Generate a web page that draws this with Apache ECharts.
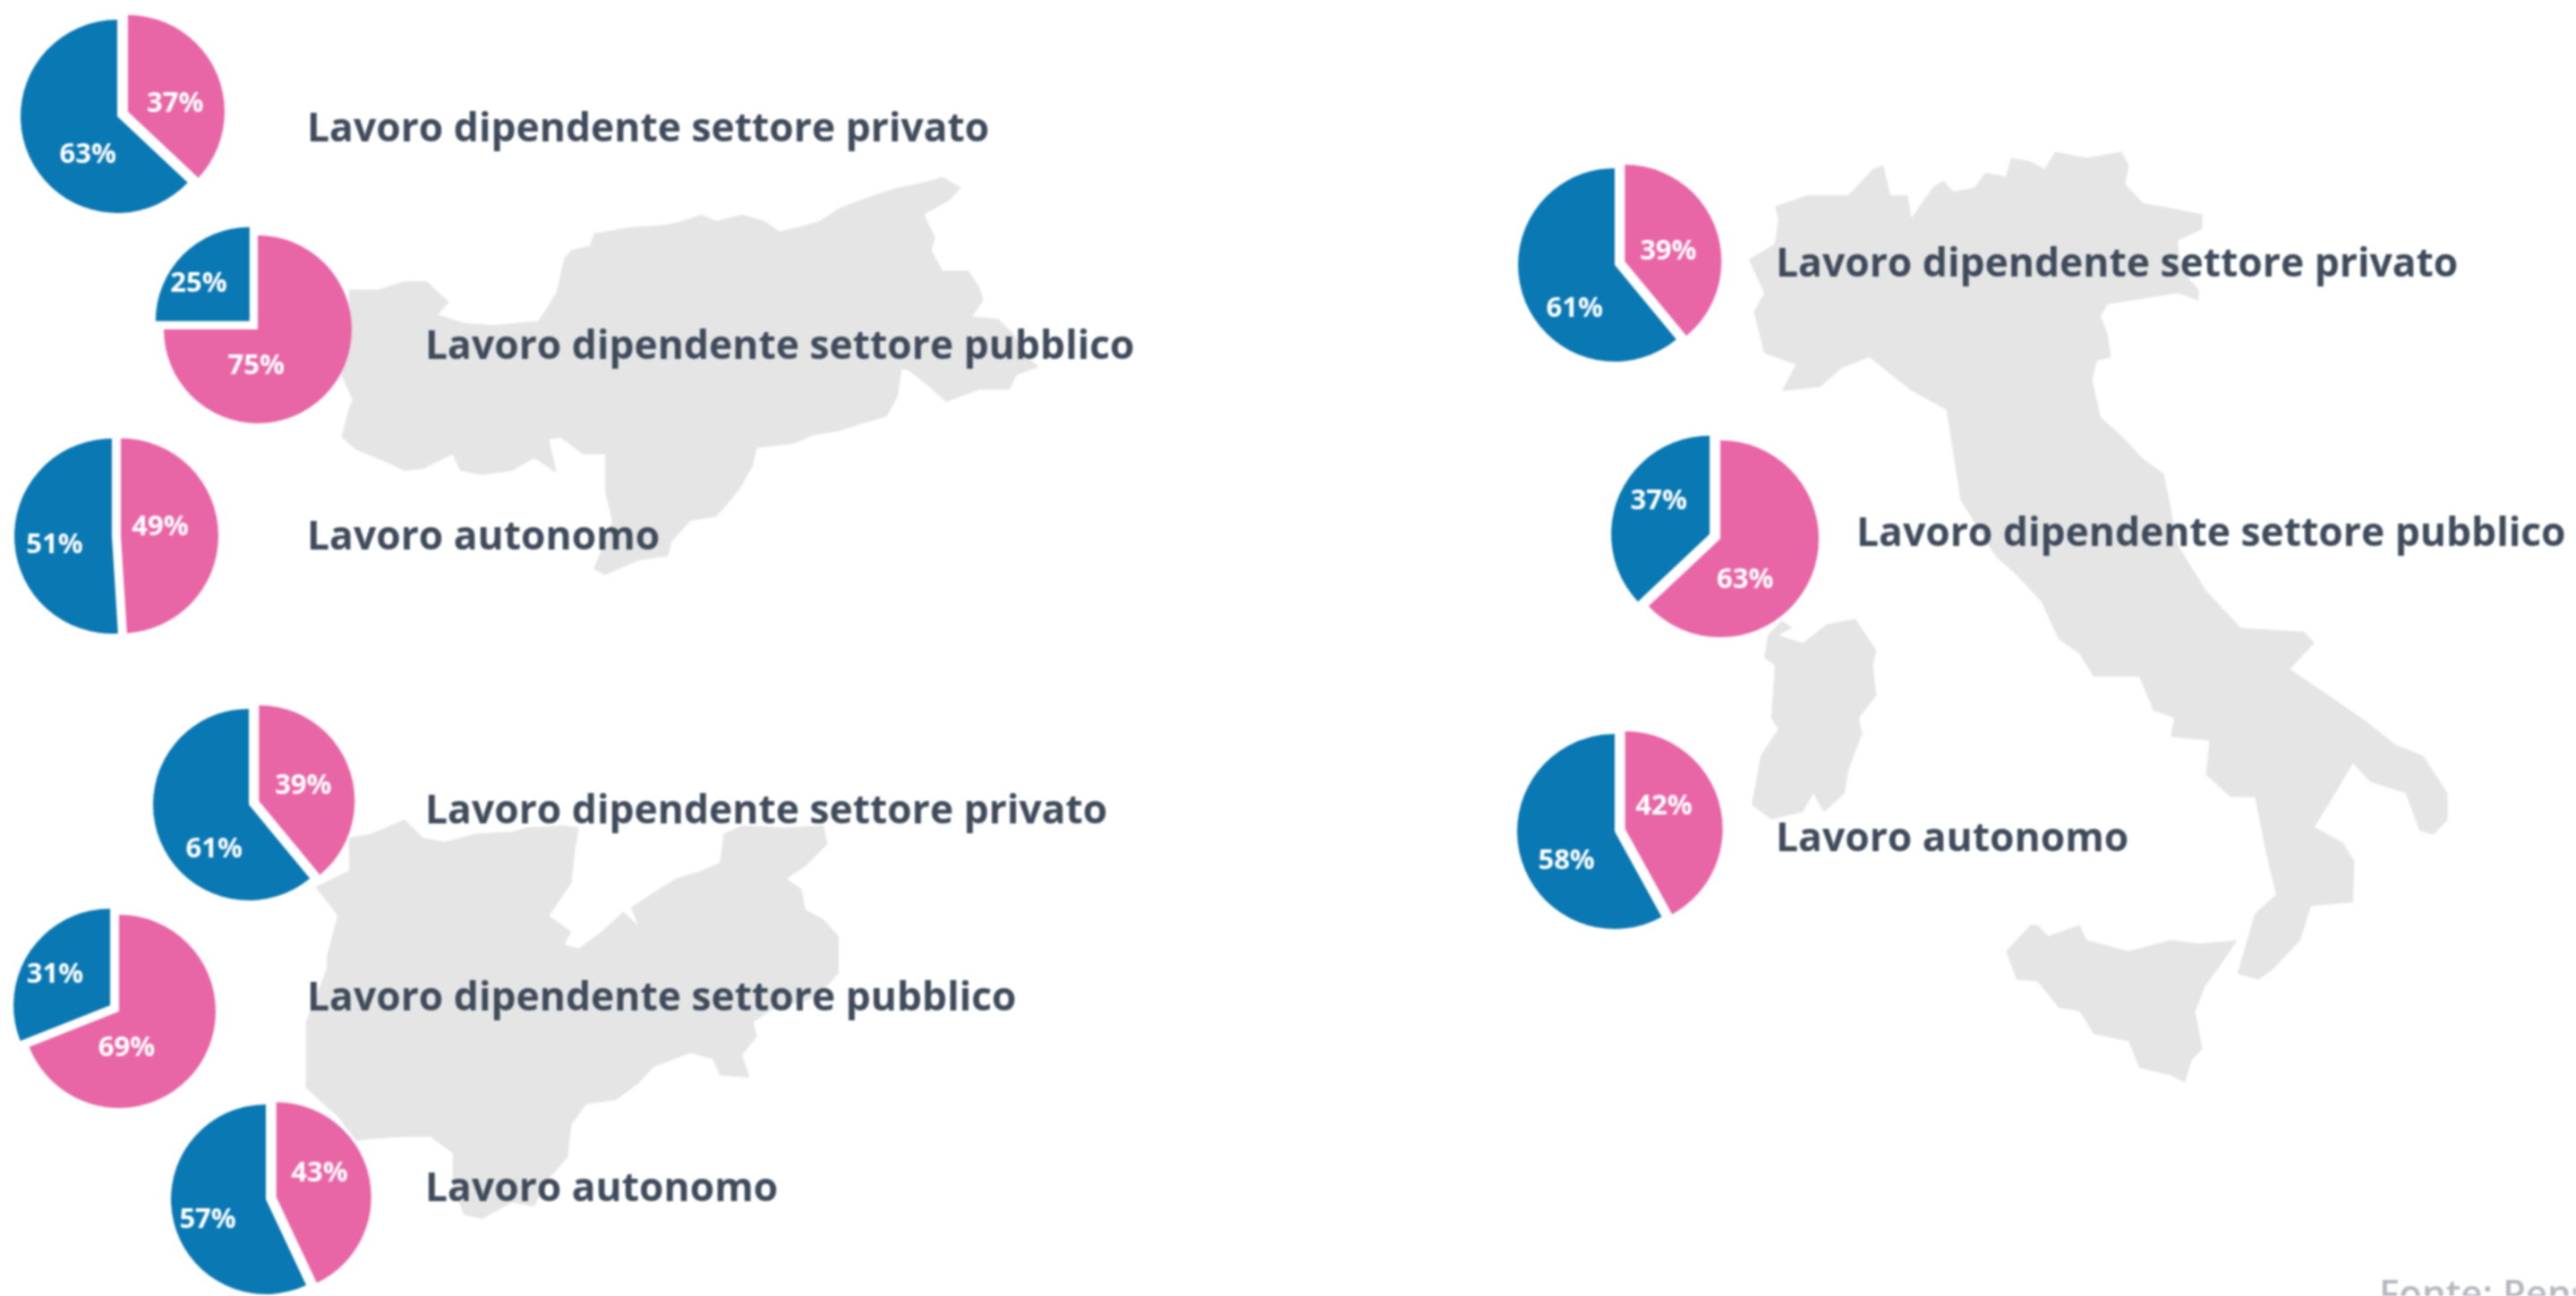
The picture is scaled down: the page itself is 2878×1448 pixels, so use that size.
<!DOCTYPE html>
<html>
<head>
<meta charset="utf-8">
<style>
html,body{margin:0;padding:0;background:#fff;overflow:hidden}
#chart{width:2878px;height:1448px;filter:blur(0.8px)}
</style>
<script src="https://cdn.jsdelivr.net/npm/echarts@6/dist/echarts.min.js"></script>
</head>
<body>
<div id="chart"></div>
<script>
// ---------- data ----------
const categories = ['Lavoro dipendente settore privato', 'Lavoro dipendente settore pubblico', 'Lavoro autonomo'];
const altoAdigePink = [37, 75, 49];
const altoAdigeBlue = [63, 25, 51];
const trentinoPink = [39, 69, 43];
const trentinoBlue = [61, 31, 57];
const italiaPink = [39, 63, 42];
const italiaBlue = [61, 37, 58];
const sourceNote = 'Fonte: Pensplan';

// ---------- layout ----------
const pieLayout = [
  {pink: altoAdigePink, blue: altoAdigeBlue, i: 0, c: [131, 130], r: 108, off: 13, lp: [193, 117], lb: [101, 172], text: [343, 145]},
  {pink: altoAdigePink, blue: altoAdigeBlue, i: 1, c: [288, 368], r: 105, off: 13, lp: [284, 407], lb: [224, 319], text: [475, 388]},
  {pink: altoAdigePink, blue: altoAdigeBlue, i: 2, c: [125, 599], r: 109, off: 10, lp: [176, 589], lb: [64, 609], text: [343, 601]},
  {pink: trentinoPink, blue: trentinoBlue, i: 0, c: [278, 899], r: 107, off: 12, lp: [336, 879], lb: [242, 948], text: [475, 907]},
  {pink: trentinoPink, blue: trentinoBlue, i: 1, c: [133, 1130], r: 108, off: 12, lp: [139, 1169], lb: [64, 1091], text: [343, 1116]},
  {pink: trentinoPink, blue: trentinoBlue, i: 2, c: [297, 1340], r: 106, off: 12, lp: [354, 1312], lb: [235, 1363], text: [475, 1329]},
  {pink: italiaPink, blue: italiaBlue, i: 0, c: [1804, 296], r: 108, off: 12, lp: [1861, 282], lb: [1762, 344], text: [1984, 296]},
  {pink: italiaPink, blue: italiaBlue, i: 1, c: [1922, 602], r: 110, off: 13, lp: [1947, 647], lb: [1856, 561], text: [2074, 597]},
  {pink: italiaPink, blue: italiaBlue, i: 2, c: [1804, 929], r: 109, off: 12, lp: [1856, 902], lb: [1753, 961], text: [1984, 938]}
];

// Silhouettes: traced outlines, each with the scale/shift of the crop they were traced on.
const altoAdigeOutline = [[470,695],[510,695],[545,675],[575,675],[590,700],[605,725],[590,755],[625,775],[665,780],[725,770],[735,745],[750,700],[760,620],[770,600],[795,590],[800,560],[850,545],[895,540],[920,530],[945,515],[965,530],[1000,515],[1030,530],[1050,555],[1075,545],[1105,530],[1130,500],[1175,470],[1210,450],[1240,440],[1270,425],[1295,450],[1280,480],[1245,515],[1260,570],[1255,600],[1270,650],[1305,650],[1320,690],[1325,720],[1310,760],[1345,765],[1365,800],[1385,860],[1400,880],[1370,900],[1360,935],[1320,935],[1275,965],[1250,925],[1225,890],[1215,885],[1210,950],[1195,1000],[1165,1015],[1130,1035],[1095,1045],[1070,1065],[1020,1075],[1015,1115],[1000,1165],[985,1200],[965,1240],[930,1250],[905,1300],[900,1335],[860,1345],[815,1380],[800,1365],[815,1300],[825,1250],[815,1180],[815,1090],[785,1090],[755,1050],[740,1055],[750,1135],[720,1100],[690,1130],[650,1140],[620,1130],[610,1090],[570,1125],[545,1130],[515,1105],[480,1080],[460,1050],[470,980],[475,960],[460,900],[470,780]];
const trentinoOutline = [[470,450],[500,440],[545,405],[570,450],[600,460],[640,440],[690,435],[710,425],[760,420],[780,425],[775,480],[770,560],[740,640],[770,680],[760,710],[780,720],[810,680],[840,630],[860,665],[850,620],[875,590],[910,550],[945,530],[970,510],[975,440],[1000,420],[1060,425],[1110,420],[1115,465],[1085,520],[1060,550],[1080,575],[1085,625],[1110,650],[1130,690],[1130,780],[1100,840],[1040,870],[1015,900],[1020,935],[1000,980],[1010,1035],[970,1030],[960,990],[930,975],[880,1010],[860,1050],[830,1090],[790,1100],[770,1150],[765,1230],[735,1290],[720,1350],[690,1340],[650,1380],[625,1370],[610,1300],[610,1220],[580,1180],[545,1180],[500,1185],[480,1190],[455,1130],[430,1090],[412,1060],[412,900],[440,770],[440,740],[455,640],[425,570],[470,530]];
const italiaOutline = [[425,120],[470,105],[530,105],[565,70],[580,65],[590,105],[615,105],[620,135],[650,95],[665,85],[680,100],[710,95],[725,75],[755,80],[762,55],[790,60],[810,70],[825,47],[870,55],[920,47],[930,65],[925,90],[950,115],[1035,130],[1035,150],[1000,165],[1005,205],[1030,230],[1030,245],[1000,235],[965,240],[900,250],[890,265],[900,290],[905,320],[885,325],[878,350],[890,400],[920,425],[950,455],[980,475],[990,520],[1000,570],[1040,630],[1090,680],[1180,685],[1195,700],[1160,735],[1200,760],[1270,805],[1310,835],[1350,850],[1385,900],[1385,935],[1365,955],[1345,950],[1325,900],[1275,885],[1250,860],[1215,915],[1195,945],[1235,965],[1252,990],[1250,1045],[1190,1050],[1175,1095],[1135,1135],[1115,1148],[1085,1140],[1110,1060],[1140,1035],[1125,975],[1110,905],[1075,905],[1040,875],[1045,830],[990,825],[995,800],[965,790],[945,745],[880,745],[860,715],[830,695],[805,645],[770,610],[740,585],[690,510],[680,450],[670,390],[620,365],[560,320],[520,335],[490,360],[435,365],[455,330],[410,315],[395,260],[410,235],[388,190],[425,170],[430,135]];
const sardegnaOutline = [[415,690],[435,670],[450,680],[430,690],[465,700],[500,675],[540,668],[570,710],[565,730],[570,770],[545,800],[550,820],[530,870],[525,900],[495,925],[480,900],[465,925],[420,935],[392,915],[405,850],[430,815],[420,800],[425,730],[410,720]];
const siciliaOutline = [[755,1110],[790,1075],[800,1075],[815,1090],[860,1075],[870,1095],[930,1110],[990,1095],[1030,1100],[1085,1095],[1060,1130],[1040,1155],[1025,1190],[1035,1240],[1020,1255],[1010,1285],[990,1275],[945,1265],[930,1230],[880,1220],[860,1190],[830,1185],[800,1150],[770,1148]];

const crops = {
  topLeft: {sx: 1.206, sy: 2.148, ox: 0, oy: 0},
  bottomLeft: {sx: 1.206, sy: 2.184, ox: 0, oy: 730},
  right: {sx: 1.277, sy: 1.19, ox: 1650, oy: 130}
};
function feature(name, outline, crop) {
  const ring = outline.map(p => [p[0] / crop.sx + crop.ox, -(p[1] / crop.sy + crop.oy)]);
  ring.push(ring[0]);
  return {type: 'Feature', properties: {name}, geometry: {type: 'Polygon', coordinates: [ring]}};
}
const silhouettes = {
  type: 'FeatureCollection',
  features: [
    feature('Alto Adige', altoAdigeOutline, crops.topLeft),
    feature('Trentino', trentinoOutline, crops.bottomLeft),
    feature('Italia', italiaOutline, crops.right),
    feature('Sardegna', sardegnaOutline, crops.right),
    feature('Sicilia', siciliaOutline, crops.right)
  ]
};
echarts.registerMap('silhouettes', silhouettes);

const PINK = '#e966a6', BLUE = '#0a78b3', GREY = '#e5e5e5', INK = '#3f4b5b';
const FONT = '"Open Sans", "Noto Sans", sans-serif';

function slice(value, total, start, color, isExploded, p, target) {
  const mid = (start + value / 2) / total * 2 * Math.PI;
  const reach = p.r / 2 + (isExploded ? p.off : 0);
  const dx = target[0] - (p.c[0] + Math.sin(mid) * reach);
  const dy = target[1] - (p.c[1] - Math.cos(mid) * reach);
  return {
    value, selected: isExploded,
    itemStyle: {color},
    select: {itemStyle: {color}, label: {color: '#fff', offset: [dx, dy]}},
    label: {offset: [dx, dy]}
  };
}

const series = pieLayout.map(p => {
  const pv = p.pink[p.i], bv = p.blue[p.i], total = pv + bv;
  return {
    type: 'pie', center: p.c, radius: [0, p.r], startAngle: 90, clockwise: true,
    selectedMode: 'multiple', selectedOffset: p.off, silent: true,
    avoidLabelOverlap: false, animation: false, z: 5,
    labelLine: {show: false},
    label: {show: true, position: 'inside', formatter: '{c}%', color: '#fff',
            fontFamily: FONT, fontWeight: 700, fontSize: 31},
    data: [
      slice(pv, total, 0, PINK, pv < bv, p, p.lp),
      slice(bv, total, pv, BLUE, bv < pv, p, p.lb)
    ]
  };
});

const graphics = pieLayout.map(p => ({
  type: 'text', x: p.text[0], y: p.text[1], z: 10, silent: true,
  style: {text: categories[p.i], fill: INK, font: '700 44.4px ' + FONT, verticalAlign: 'middle'}
}));
graphics.push({
  type: 'text', x: 2658, y: 1427, z: 10, silent: true,
  style: {text: sourceNote, fill: '#b4b9bf', font: '600 42px ' + FONT}
});

const chart = echarts.init(document.getElementById('chart'), null, {renderer: 'canvas'});
chart.setOption({
  backgroundColor: '#ffffff',
  animation: false,
  tooltip: {show: false},
  geo: {
    map: 'silhouettes', roam: false, silent: true, aspectScale: 1,
    boundingCoords: [[0, 0], [2878, -1448]],
    left: 0, top: 0, width: 2878, height: 1448, z: 0,
    label: {show: false},
    itemStyle: {areaColor: GREY, borderWidth: 0},
    emphasis: {disabled: true}
  },
  series,
  graphic: graphics
});
</script>
</body>
</html>
